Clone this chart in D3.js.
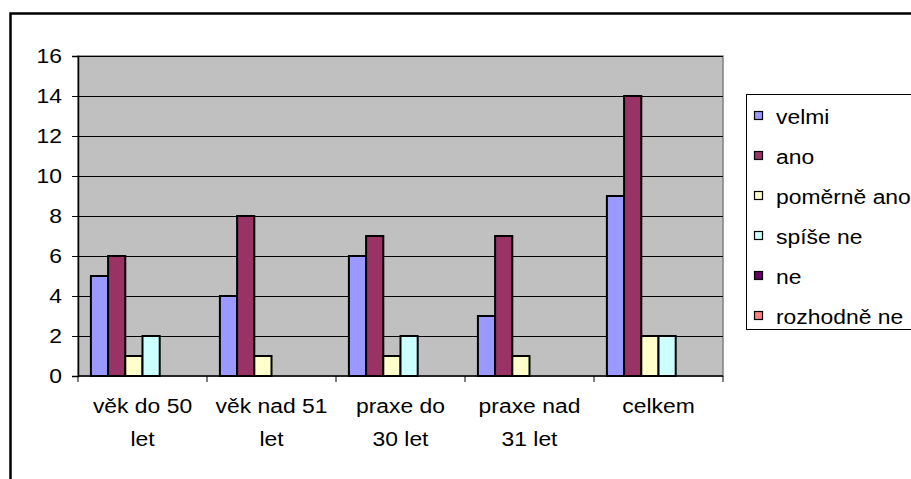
<!DOCTYPE html>
<html>
<head>
<meta charset="utf-8">
<script src="https://cdn.jsdelivr.net/npm/d3@7"></script>
<style>
  html, body { margin: 0; padding: 0; background: #fff; }
  svg { display: block; }
  text { font-family: "Liberation Sans", Arial, sans-serif; fill: #000; }
</style>
</head>
<body>
<svg id="chart" width="911" height="479"></svg>
<script>
// Categories (x axis labels, split into two lines)
const categories = [
  ["věk do 50", "let"],
  ["věk nad 51", "let"],
  ["praxe do", "30 let"],
  ["praxe nad", "31 let"],
  ["celkem", ""]
];

// Series names and colours
const seriesNames = ["velmi", "ano", "poměrně ano", "spíše ne", "ne", "rozhodně ne"];
const seriesColors = ["#9999FF", "#993366", "#FFFFCC", "#CCFFFF", "#660066", "#FF8080"];

// Values per series, one per category
const velmi      = [5, 4, 6, 3, 9];
const ano        = [6, 8, 7, 7, 14];
const pomerneAno = [1, 1, 1, 1, 2];
const spiseNe    = [2, 0, 2, 0, 2];
const ne         = [0, 0, 0, 0, 0];
const rozhodneNe = [0, 0, 0, 0, 0];
const seriesValues = [velmi, ano, pomerneAno, spiseNe, ne, rozhodneNe];

// Y axis ticks
const yTicks = [0, 2, 4, 6, 8, 10, 12, 14, 16];

const svg = d3.select("#chart");
const fontSize = 21;
const stretch = 1.09; // glyphs are drawn slightly wide

// Outer chart frame
svg.append("rect")
  .attr("x", 10.5).attr("y", 13.5)
  .attr("width", 940).attr("height", 500)
  .attr("fill", "#fff")
  .attr("stroke", "#000").attr("stroke-width", 2.5);

const plot = { left: 78, right: 723, top: 56, bottom: 376 };

const x0 = d3.scaleBand()
  .domain(d3.range(categories.length))
  .range([plot.left, plot.right])
  .paddingInner(0).paddingOuter(0);

// 150% gap between groups: bar width = band / (6 + 1.5)
const barW = x0.bandwidth() / 7.5;
const x1 = d3.scaleBand()
  .domain(d3.range(seriesNames.length))
  .range([barW * 0.75, barW * 6.75])
  .paddingInner(0).paddingOuter(0);

const y = d3.scaleLinear().domain([0, 16]).range([plot.bottom, plot.top]);

// Plot background
svg.append("rect")
  .attr("x", plot.left).attr("y", plot.top)
  .attr("width", plot.right - plot.left).attr("height", plot.bottom - plot.top)
  .attr("fill", "#C0C0C0")
  .attr("stroke", "#808080").attr("stroke-width", 1.5);

// Gridlines
svg.append("g")
  .selectAll("line")
  .data(yTicks.filter(t => t > 0))
  .join("line")
  .attr("x1", plot.left).attr("x2", plot.right)
  .attr("y1", d => Math.round(y(d)) + 0.5).attr("y2", d => Math.round(y(d)) + 0.5)
  .attr("stroke", "#000").attr("stroke-width", 1);

// Bars
const groups = svg.append("g")
  .selectAll("g")
  .data(categories.map((c, i) => i))
  .join("g")
  .attr("transform", i => `translate(${x0(i)},0)`);

groups.selectAll("rect")
  .data(i => seriesValues.map((vals, s) => ({ s, v: vals[i] })).filter(d => d.v > 0))
  .join("rect")
  .attr("x", d => x1(d.s))
  .attr("width", x1.bandwidth())
  .attr("y", d => y(d.v))
  .attr("height", d => y(0) - y(d.v))
  .attr("fill", d => seriesColors[d.s])
  .attr("stroke", "#000").attr("stroke-width", 2);

// Y axis
const yAxis = d3.axisLeft(y).tickValues(yTicks).tickSize(6).tickPadding(10).tickFormat(d3.format("d"));
const yg = svg.append("g").attr("transform", `translate(${plot.left},0)`).call(yAxis);
yg.select(".domain").attr("stroke", "#000").attr("stroke-width", 1.5);
yg.selectAll(".tick line").attr("stroke", "#000");
yg.selectAll(".tick text")
  .attr("x", 0)
  .attr("transform", `translate(-16,0) scale(${stretch},1)`)
  .attr("font-size", fontSize)
  .attr("font-family", "Liberation Sans, Arial, sans-serif")
  .attr("fill", "#000");

// X axis (tick marks at category boundaries)
const xBoundaries = d3.range(categories.length + 1).map(i => plot.left + i * x0.step());
svg.append("line")
  .attr("x1", plot.left).attr("x2", plot.right)
  .attr("y1", plot.bottom).attr("y2", plot.bottom)
  .attr("stroke", "#000").attr("stroke-width", 1.5);
svg.append("g")
  .selectAll("line")
  .data(xBoundaries)
  .join("line")
  .attr("x1", d => d).attr("x2", d => d)
  .attr("y1", plot.bottom).attr("y2", plot.bottom + 6)
  .attr("stroke", "#000").attr("stroke-width", 1);

// Category labels (two lines)
svg.append("g")
  .selectAll("text")
  .data(categories.flatMap((c, i) => c.filter(s => s.length).map((s, k) => ({ s, k, i }))))
  .join("text")
  .attr("text-anchor", "middle")
  .attr("font-size", fontSize)
  .attr("transform", d => `translate(${x0(d.i) + x0.bandwidth() / 2},${413 + d.k * 33}) scale(${stretch},1)`)
  .text(d => d.s);

// Legend
const legend = svg.append("g");
legend.append("rect")
  .attr("x", 746.5).attr("y", 94.5)
  .attr("width", 200).attr("height", 235)
  .attr("fill", "#fff")
  .attr("stroke", "#000").attr("stroke-width", 1);

const items = legend.selectAll("g.item")
  .data(seriesNames.map((n, i) => ({ n, i })))
  .join("g")
  .attr("class", "item")
  .attr("transform", d => `translate(0,${116 + d.i * 40})`);
items.append("rect")
  .attr("x", 754.5).attr("y", -4.5)
  .attr("width", 8).attr("height", 8)
  .attr("fill", d => seriesColors[d.i])
  .attr("stroke", "#000").attr("stroke-width", 1.2);
items.append("text")
  .attr("transform", `translate(776,0) scale(${stretch},1)`)
  .attr("dy", "0.36em")
  .attr("font-size", fontSize)
  .text(d => d.n);
</script>
</body>
</html>
